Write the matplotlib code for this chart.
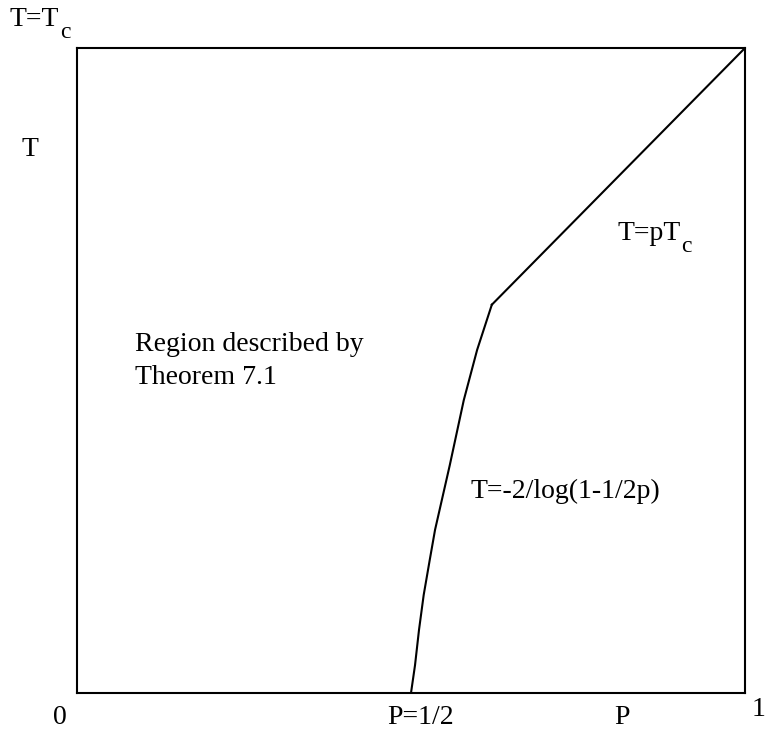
import matplotlib
matplotlib.use("Agg")
import matplotlib.pyplot as plt

plt.rcParams['font.family'] = ['Liberation Serif', 'DejaVu Serif']

# curve: T=-2/log(1-1/2p) part, then T=pTc part
p_low = [0.5, 0.506, 0.512, 0.519, 0.528, 0.536, 0.558, 0.579, 0.599, 0.621]
t_low = [0.0, 0.043, 0.098, 0.152, 0.206, 0.253, 0.353, 0.454, 0.532, 0.602]
p_high = [0.621, 1.0]
t_high = [0.602, 1.0]

W, H = 765, 732
FS = 20
fig = plt.figure(figsize=(W / 100, H / 100), dpi=100)
ax = fig.add_axes([77 / W, 1 - 693 / H, (745 - 77) / W, (693 - 48) / H])

ax.plot(p_low, t_low, color='black', lw=1.5, solid_joinstyle='round')
ax.plot(p_high, t_high, color='black', lw=1.5)
ax.set_xlim(0, 1)
ax.set_ylim(0, 1)
ax.set_xticks([])
ax.set_yticks([])
for s in ax.spines.values():
    s.set_linewidth(1.5)


def ftext(x, y, s, **kw):
    # place text by pixel position in the figure
    return fig.text(x / W, 1 - y / H, s, fontsize=FS, va='center', **kw)


def sub_text(x, y, s, sub):
    t = ftext(x, y, s)
    fig.canvas.draw()
    bb = t.get_window_extent()
    fig.text(bb.x1 / W + 1 / W, 1 - (y + 12) / H, sub, fontsize=FS * 0.85, va='center')


sub_text(10, 20, 'T=T', 'c')
ftext(22, 149, 'T')
ftext(53, 718, '0')
ftext(387, 718, 'P=1/2')
ftext(614, 718, 'P')
ftext(752, 709, '1')
sub_text(617, 234, 'T=pT', 'c')
ftext(135, 344, 'Region described by')
ftext(135, 377, 'Theorem 7.1')
ftext(470, 491, 'T=-2/log(1-1/2p)')

fig.savefig('out.png', dpi=100)
